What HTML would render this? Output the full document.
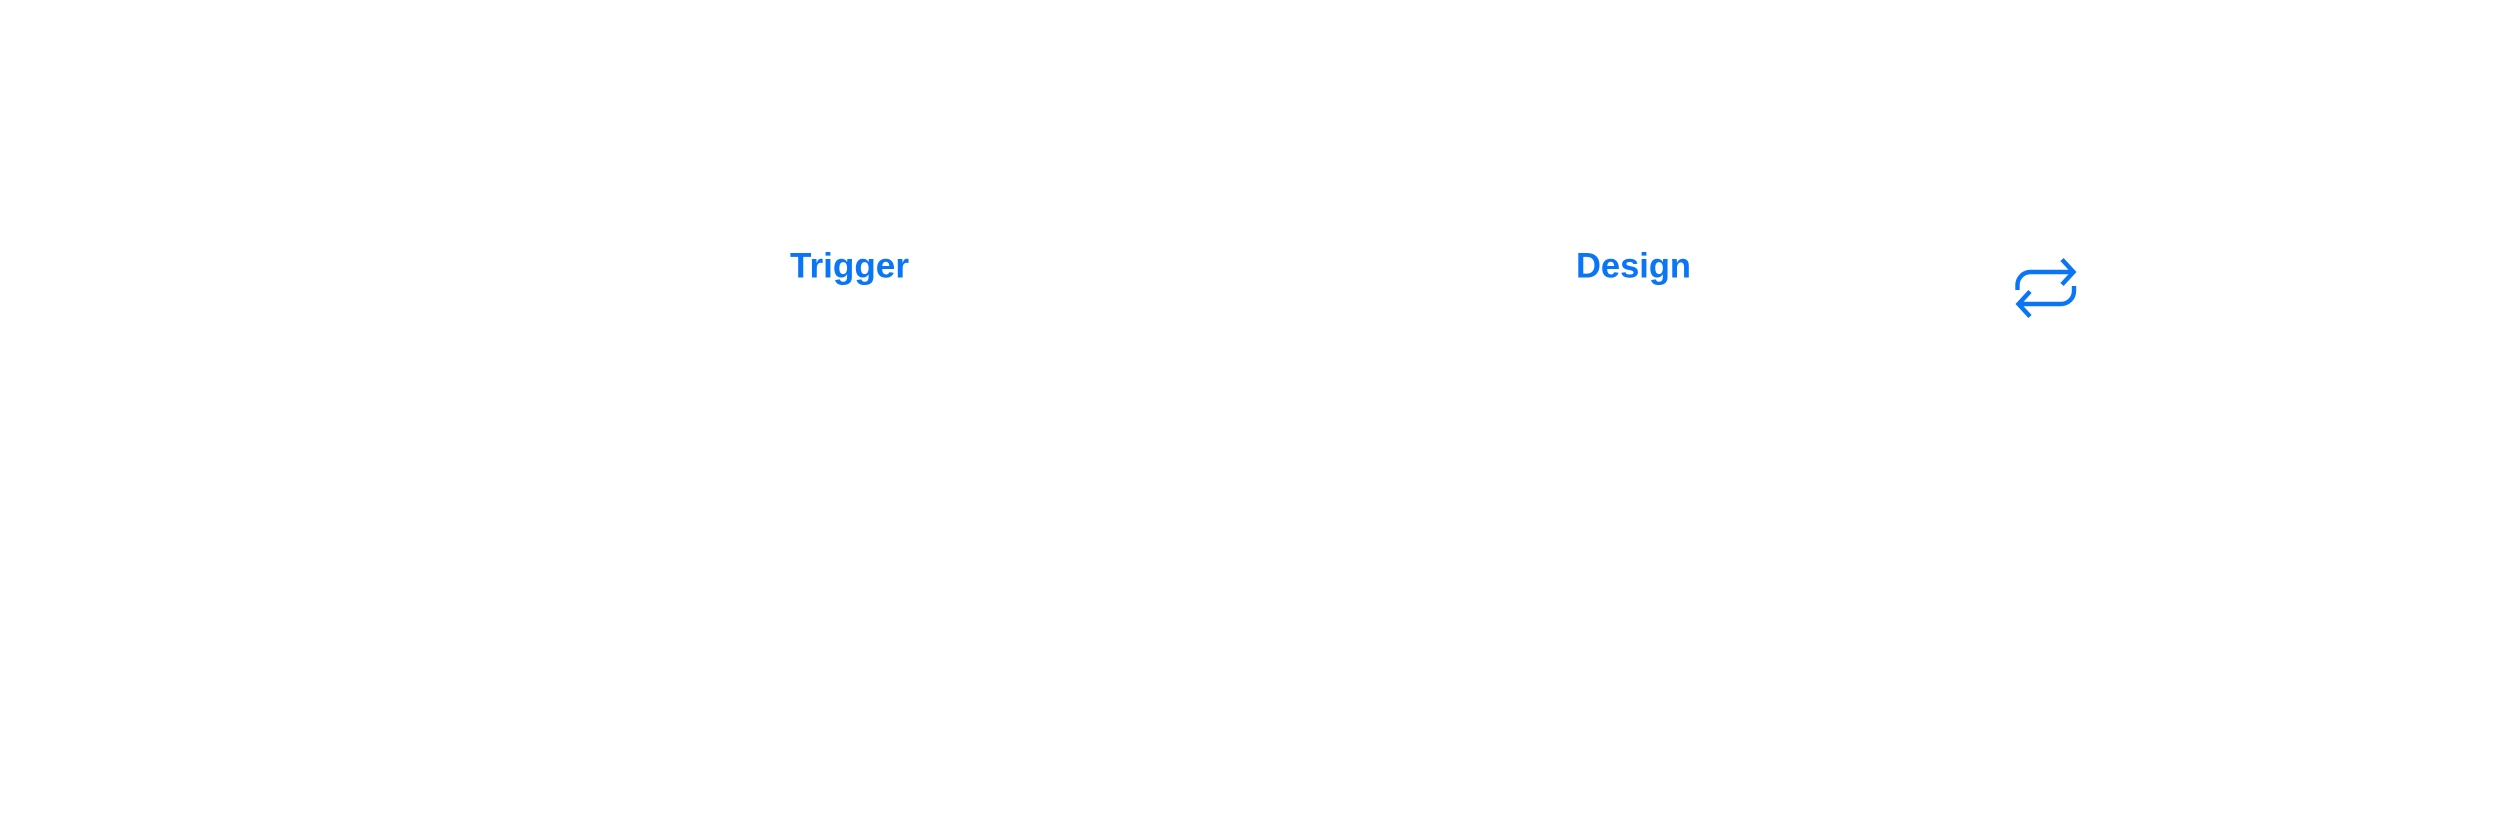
<!DOCTYPE html>
<html>
<head>
<meta charset="utf-8">
<style>
html,body{margin:0;padding:0;background:#fff;width:2514px;height:814px;overflow:hidden}
svg{display:block}
text{font-family:"Liberation Sans",sans-serif;font-weight:700;font-size:35px;fill:#0a75f5}
</style>
</head>
<body>
<svg width="2514" height="814" viewBox="0 0 2514 814" xmlns="http://www.w3.org/2000/svg">
<rect width="2514" height="814" fill="#ffffff"/>
<text x="790" y="277.5" textLength="119" lengthAdjust="spacingAndGlyphs">Trigger</text>
<text x="1576" y="277.5" textLength="115" lengthAdjust="spacingAndGlyphs">Design</text>
<g fill="none" stroke="#0a75f5" stroke-width="4.4" stroke-linejoin="miter">
<path d="M2017.5 290V285A13 13 0 0 1 2030.5 272H2073"/>
<path d="M2062 259.5L2073.5 272L2062 284.5"/>
<path d="M2074 286V291A13 13 0 0 1 2061 304H2018"/>
<path d="M2030 291.5L2018.5 304L2030 316.5"/>
</g>
</svg>
</body>
</html>
